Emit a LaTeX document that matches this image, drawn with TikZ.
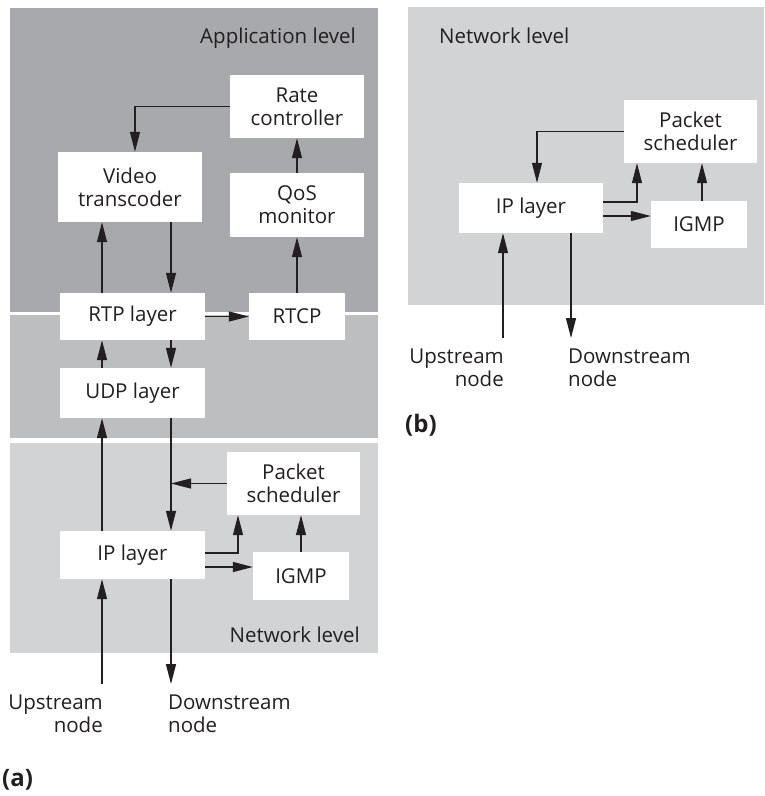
\documentclass[tikz,border=0pt]{standalone}
\usepackage{fontspec}
\setmainfont{Open Sans}
\usetikzlibrary{arrows.meta}
\definecolor{applevel}{HTML}{A7A9AC}
\definecolor{translevel}{HTML}{BCBEC0}
\definecolor{netlevel}{HTML}{D1D3D4}
\definecolor{ink}{HTML}{231F20}

\begin{document}
\begin{tikzpicture}[x=1pt, y=-1pt,
    blk/.style={fill=white, inner sep=0pt, align=center, text=ink,
      font=\fontsize{20.5}{23}\selectfont},
    lbl/.style={inner sep=0pt, text=ink, font=\fontsize{20.5}{23}\selectfont},
    tag/.style={inner sep=0pt, text=ink, font=\fontsize{24}{26}\selectfont\bfseries},
    arr/.style={draw=ink, line width=1.3pt,
      -{Triangle[length=20pt, width=10pt]}}]
    \useasboundingbox (0,0) rectangle (764,796);

    % Levels of (a)
    \fill[applevel]   (10,8)   rectangle (378,312);
    \fill[translevel] (10,315) rectangle (378,438);
    \fill[netlevel]   (10,443) rectangle (378,653);
    % Level of (b)
    \fill[netlevel]   (408,7)  rectangle (764,305);

    % Blocks of (a)
    \node[blk, minimum width=134, minimum height=63] (rate)  at (297,106.5) {Rate\\controller};
    \node[blk, minimum width=144, minimum height=70] (video) at (130,187)   {Video\\transcoder};
    \node[blk, minimum width=134, minimum height=64] (qos)   at (297,205)   {QoS\\monitor};
    \node[blk, minimum width=145, minimum height=47] (rtp)   at (132.5,316.5) {RTP layer};
    \node[blk, minimum width=96,  minimum height=47] (rtcp)  at (297,316.5) {RTCP};
    \node[blk, minimum width=145, minimum height=50] (udp)   at (132.5,393) {UDP layer};
    \node[blk, minimum width=133, minimum height=63] (sched) at (293.5,483.5) {Packet\\scheduler};
    \node[blk, minimum width=145, minimum height=48] (ip)    at (132.5,555) {IP layer};
    \node[blk, minimum width=96,  minimum height=48] (igmp)  at (301,576)   {IGMP};

    % Blocks of (b)
    \node[blk, minimum width=133, minimum height=63] (schedb) at (690.5,131.5) {Packet\\scheduler};
    \node[blk, minimum width=144, minimum height=50] (ipb)    at (531,208)   {IP layer};
    \node[blk, minimum width=96,  minimum height=47] (igmpb)  at (699,224.5) {IGMP};

    % Level names
    \node[lbl, anchor=base east] (applbl)  at (356,43)  {Application level};
    \node[lbl, anchor=base east] (netlbl)  at (360,642) {Network level};
    \node[lbl, anchor=base west] (netlblb) at (439,43)  {Network level};

    % End nodes
    \coordinate (upa) at (102,684);
    \coordinate (dna) at (171,684);
    \coordinate (upb) at (503,338);
    \coordinate (dnb) at (571,338);
    \node[lbl, anchor=north east, align=right] (upnode)   at (103,694.5) {Upstream\\node};
    \node[lbl, anchor=north west, align=left]  (downnode) at (168,694.5) {Downstream\\node};
    \node[lbl, anchor=north east, align=right] (upnodeb)   at (504,348.5) {Upstream\\node};
    \node[lbl, anchor=north west, align=left]  (downnodeb) at (568,348.5) {Downstream\\node};

    % Panel tags
    \node[tag, anchor=base west] (taga) at (2,786) {(a)};
    \node[tag, anchor=base west] (tagb) at (405,432) {(b)};

    % Application level flows
    \draw[arr] (rate.west) -| ([xshift=5pt]video.north);
    \draw[arr] (video.south -| dna) -- (rtp.north -| dna);
    \draw[arr] (rtp.north -| upa) -- (video.south -| upa);
    \draw[arr] (qos.north) -- (rate.south);
    \draw[arr] (rtcp.north) -- (qos.south);
    \draw[arr] (rtp.east) -- (rtcp.west);

    % Transport level flows
    \draw[arr] (udp.north -| upa) -- (rtp.south -| upa);
    \draw[arr] (rtp.south -| dna) -- (udp.north -| dna);

    % Network level flows of (a)
    \draw[arr] (ip.north -| upa) -- (udp.south -| upa);
    \draw[arr] (udp.south -| dna) -- (ip.north -| dna);
    \draw[arr] (sched.west) -- (sched.west -| dna);
    \draw[arr] ([yshift=2pt]ip.east) -| ([xshift=-55.5pt]sched.south);
    \draw[arr] ([yshift=-12pt]ip.east) -- ([yshift=-12pt]ip.east -| igmp.west);
    \draw[arr] (igmp.north) -- (igmp.north |- sched.south);
    \draw[arr] (upa) -- (ip.south -| upa);
    \draw[arr] (ip.south -| dna) -- (dna);

    % Network level flows of (b)
    \draw[arr] (schedb.west) -| ([xshift=6pt]ipb.north);
    \draw[arr] ([yshift=6pt]ipb.east) -| ([xshift=-53.5pt]schedb.south);
    \draw[arr] ([yshift=-8pt]ipb.east) -- ([yshift=-8pt]ipb.east -| igmpb.west);
    \draw[arr] ([xshift=3pt]igmpb.north) -- ([xshift=3pt]igmpb.north |- schedb.south);
    \draw[arr] (upb) -- (ipb.south -| upb);
    \draw[arr] (ipb.south -| dnb) -- (dnb);
\end{tikzpicture}
\end{document}
